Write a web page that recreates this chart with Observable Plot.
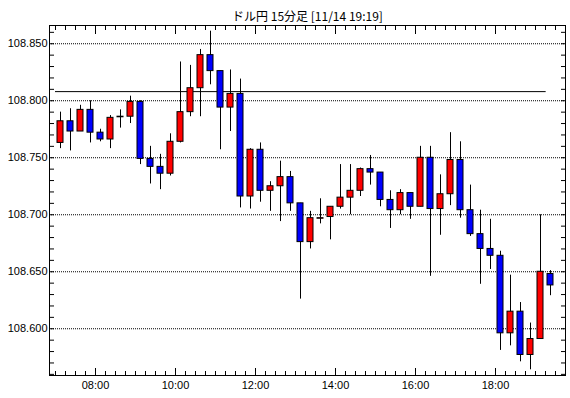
<!DOCTYPE html>
<html>
<head>
<meta charset="utf-8">
<script src="https://cdn.jsdelivr.net/npm/d3@7"></script>
<script src="https://cdn.jsdelivr.net/npm/@observablehq/plot@0.6"></script>
<style>
  html, body { margin: 0; padding: 0; background: #fff; }
</style>
</head>
<body>
<div id="chart"></div>
<script>
const title = "ドル円 15分足 [11/14 19:19]";
const times = ["07:00","07:15","07:30","07:45","08:00","08:15","08:30","08:45","09:00","09:15",
  "09:30","09:45","10:00","10:15","10:30","10:45","11:00","11:15","11:30","11:45",
  "12:00","12:15","12:30","12:45","13:00","13:15","13:30","13:45","14:00","14:15",
  "14:30","14:45","15:00","15:15","15:30","15:45","16:00","16:15","16:30","16:45",
  "17:00","17:15","17:30","17:45","18:00","18:15","18:30","18:45","19:00","19:15"];
const open = [108.763,108.782,108.773,108.792,108.772,108.766,108.7855,108.786,108.799,108.749,
  108.742,108.736,108.764,108.790,108.811,108.840,108.826,108.794,108.806,108.716,
  108.757,108.721,108.725,108.733,108.710,108.676,108.6965,108.698,108.707,108.715,
  108.721,108.740,108.737,108.713,108.704,108.719,108.707,108.750,108.705,108.718,
  108.748,108.704,108.683,108.670,108.664,108.596,108.615,108.577,108.591,108.648];
const high = [108.790,108.793,108.796,108.800,108.775,108.787,108.792,108.804,108.800,108.760,
  108.753,108.771,108.834,108.831,108.845,108.861,108.826,108.827,108.819,108.758,
  108.763,108.729,108.747,108.738,108.710,108.703,108.714,108.707,108.744,108.744,
  108.741,108.752,108.737,108.721,108.722,108.719,108.760,108.760,108.735,108.772,
  108.764,108.726,108.704,108.696,108.668,108.647,108.623,108.605,108.700,108.651];
const low = [108.758,108.756,108.773,108.763,108.764,108.758,108.776,108.780,108.744,108.727,
  108.722,108.734,108.763,108.786,108.786,108.814,108.757,108.773,108.706,108.705,
  108.711,108.703,108.694,108.703,108.626,108.670,108.692,108.678,108.705,108.700,
  108.716,108.726,108.707,108.688,108.700,108.696,108.707,108.646,108.682,108.708,
  108.697,108.681,108.639,108.652,108.581,108.585,108.571,108.564,108.591,108.629];
const close = [108.782,108.773,108.792,108.772,108.766,108.785,108.786,108.799,108.749,108.742,
  108.736,108.764,108.790,108.811,108.840,108.826,108.794,108.806,108.716,108.757,
  108.721,108.725,108.733,108.710,108.676,108.697,108.697,108.707,108.715,108.721,
  108.740,108.737,108.713,108.704,108.719,108.707,108.750,108.705,108.718,108.748,
  108.704,108.683,108.670,108.664,108.596,108.615,108.577,108.591,108.650,108.638];
const yLabels = [108.600, 108.650, 108.700, 108.750, 108.800, 108.850];
const yMinor = [108.56,108.57,108.58,108.59,108.60,108.61,108.62,108.63,108.64,108.65,108.66,108.67,
  108.68,108.69,108.70,108.71,108.72,108.73,108.74,108.75,108.76,108.77,108.78,108.79,108.80,
  108.81,108.82,108.83,108.84,108.85,108.86];
const xLabels = ["08:00","10:00","12:00","14:00","16:00","18:00"];
const refLevel = 108.808;
const refStart = "07:00", refEnd = "19:16";
const xStart = "06:51", xEnd = "19:45";
const yDomain = [108.559, 108.866];

const toDate = (s) => new Date(`2019-11-14T${s}:00Z`);
const MIN = 60000;
const candles = times.map((t, i) => {
  const d = toDate(t);
  return {t0: d, t1: new Date(+d + 15 * MIN), mid: new Date(+d + 7.5 * MIN),
          o: open[i], h: high[i], l: low[i], c: close[i], up: close[i] >= open[i]};
});
const minorX = times.map(toDate).concat([toDate("19:30")]);
const majorX = xLabels.map(toDate);

const chart = Plot.plot({
  width: 570,
  height: 398,
  marginLeft: 49,
  marginRight: 5,
  marginTop: 25,
  marginBottom: 23,
  style: {fontFamily: "'Liberation Sans', Arial, sans-serif", fontSize: "11px", color: "black", background: "white"},
  x: {type: "utc", domain: [toDate(xStart), toDate(xEnd)]},
  y: {domain: yDomain},
  marks: [
    Plot.gridY(yLabels, {stroke: "black", strokeOpacity: 1, strokeDasharray: "1,1"}),
    Plot.ruleY([refLevel], {x1: toDate(refStart), x2: toDate(refEnd), stroke: "black", strokeWidth: 1}),
    Plot.ruleX(candles, {x: "mid", y1: "l", y2: "h", stroke: "black", strokeWidth: 1}),
    Plot.rect(candles, {x1: "t0", x2: "t1", y1: "o", y2: "c", insetLeft: 2, insetRight: 2,
      fill: d => d.up ? "#ff0000" : "#0000ff", stroke: "black", strokeWidth: 1}),
    Plot.axisY(yLabels, {anchor: "left", tickSize: 0, tickPadding: 2, tickFormat: d3.format(".3f"), label: null}),
    Plot.axisY(yMinor, {anchor: "left", tickSize: -5, tickFormat: () => "", label: null}),
    Plot.axisY(yMinor, {anchor: "right", tickSize: -5, tickFormat: () => "", label: null}),
    Plot.axisX(majorX, {anchor: "bottom", tickSize: -7, tickPadding: 13, tickFormat: d3.utcFormat("%H:%M"), label: null}),
    Plot.axisX(minorX, {anchor: "bottom", tickSize: -4, tickFormat: () => "", label: null}),
    Plot.axisX(majorX, {anchor: "top", tickSize: -8, tickFormat: () => "", label: null}),
    Plot.axisX(minorX, {anchor: "top", tickSize: -4, tickFormat: () => "", label: null}),
    Plot.frame({stroke: "black"}),
    Plot.text([title], {frameAnchor: "top", dy: -13, fontFamily: "'Noto Sans CJK JP', sans-serif", fontSize: 12, fill: "black"})
  ]
});
document.getElementById("chart").appendChild(chart);
</script>
</body>
</html>
